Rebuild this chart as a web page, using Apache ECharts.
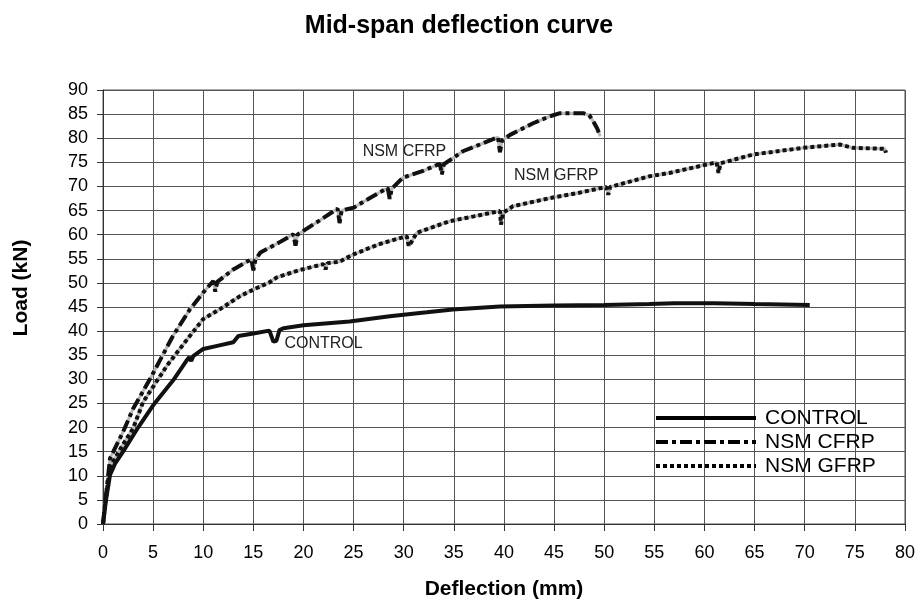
<!DOCTYPE html>
<html>
<head>
<meta charset="utf-8">
<script src="https://cdn.jsdelivr.net/npm/echarts@6/dist/echarts.min.js"></script>
<style>
html,body{margin:0;padding:0;background:#fff;}
#chart{width:918px;height:605px;}
</style>
</head>
<body>
<div id="chart"></div>
<script>
// ---- data (deflection mm, load kN) ----
const seriesNames = ['CONTROL', 'NSM CFRP', 'NSM GFRP'];

const controlX = [0,0.3,0.7,1.2,2.0,3.5,5.0,7.0,8.3,8.6,8.8,9.0,10.0,11.5,13.0,13.5,15.0,16.6,17.0,17.3,17.6,18.0,20,24.6,28.6,32.3,34.9,39.6,45,50,54.5,57,61,65,70.5];
const controlY = [0,5,10.2,12.5,15.0,20,24.6,29.8,33.8,34.6,33.8,34.8,36.3,37.0,37.7,39.0,39.5,40.1,37.8,38.0,40.2,40.6,41.2,42.0,43.1,43.9,44.5,45.1,45.3,45.4,45.6,45.8,45.8,45.6,45.4];

const cfrpX = [0,0.3,0.7,2.0,3.0,4.7,7.0,8.7,10.0,11.0,11.2,11.4,13.0,14.8,15.0,15.2,15.7,17.5,19.0,19.2,19.4,21.5,23.4,23.6,23.8,25.0,26.8,28.4,28.6,28.8,29.9,32,33.6,33.8,34.0,35.9,37.6,39.4,39.6,39.8,40.6,42.9,44.5,45.6,47.9,48.5,48.9,49.3,49.6];
const cfrpY = [0,6,13.6,19.1,23.9,30.1,39.1,44.6,48.0,50.4,48.2,50.2,52.8,54.9,52.6,54.8,56.3,58.3,60.1,57.7,60.0,62.8,65.4,62.4,65.0,65.6,67.8,69.7,67.4,69.5,71.8,73.3,74.7,72.5,74.6,77.3,78.7,80.2,77.1,79.5,80.7,83.1,84.5,85.2,85.2,84.8,83.5,82.0,80.4];

const gfrpX = [0,0.3,0.7,2.0,3.0,4.0,6.4,8.7,10.0,11.7,13.7,15.2,16.6,17.3,19.5,22.0,22.2,22.4,23.6,24.5,25.0,27.5,30.3,30.5,30.8,31.3,34.6,37,39.6,39.7,39.9,40.9,44.6,47.5,50.2,50.4,50.6,54.5,56.5,61.2,61.4,61.6,64.8,69.8,73.5,74.8,78.0,78.1];
const gfrpY = [0,5.5,11.9,16.5,19.8,25.3,32.9,39.1,42.5,44.6,47.3,48.8,50.1,51.1,52.6,53.9,52.8,54.1,54.4,55.4,55.9,58.0,59.7,57.6,58.6,60.4,62.8,63.8,64.9,62.1,64.5,65.9,67.6,68.7,69.9,68.3,69.9,72.1,72.8,75.0,72.8,74.8,76.6,78.0,78.7,78.0,77.8,77.0];

const xTicks = {min: 0, max: 80, step: 5};
const yTicks = {min: 0, max: 90, step: 5};

// ---- build chart ----
function pairs(xs, ys) { return xs.map((x, i) => [x, ys[i]]); }

const FONT = '"Liberation Sans", Arial, sans-serif';
const INK = '#111';

function annot(text, coord) {
  return {
    silent: true,
    symbol: 'rect',
    symbolSize: 0,
    data: [{
      coord: coord,
      label: {
        show: true, position: 'right', distance: 0,
        formatter: text, color: '#222', fontSize: 16, fontFamily: FONT
      }
    }]
  };
}

function halo(name, xs, ys) {
  return {
    name: name, type: 'line', data: pairs(xs, ys),
    showSymbol: false, symbol: 'none', silent: true,
    color: '#b8b8b8',
    lineStyle: {color: '#b8b8b8', width: 3},
    z: 2
  };
}

const chart = echarts.init(document.getElementById('chart'), null, {renderer: 'canvas'});
chart.setOption({
  backgroundColor: '#fff',
  animation: false,
  title: {
    text: 'Mid-span deflection curve',
    left: 'center', top: 9,
    textStyle: {fontSize: 25, fontWeight: 'bold', color: '#000', fontFamily: FONT}
  },
  grid: {left: 103, top: 90, right: 12.5, bottom: 79, show: true, borderColor: '#555', borderWidth: 1},
  legend: {
    data: seriesNames,
    orient: 'vertical',
    left: 654, top: 406,
    padding: 0,
    itemWidth: 100, itemHeight: 14, itemGap: 0,
    itemStyle: {opacity: 0},
    lineStyle: {width: 4, color: '#000'},
    textStyle: {fontSize: 21, color: '#000', fontFamily: FONT, lineHeight: 24, padding: [0, 0, 0, 4]}
  },
  xAxis: {
    type: 'value', min: xTicks.min, max: xTicks.max, interval: xTicks.step,
    name: 'Deflection (mm)', nameLocation: 'middle', nameGap: 55,
    nameTextStyle: {fontSize: 21, fontWeight: 'bold', color: '#000', fontFamily: FONT},
    axisLine: {show: true, onZero: false, lineStyle: {color: '#333', width: 1}},
    axisTick: {show: true, inside: false, length: 7, lineStyle: {color: '#333'}},
    axisLabel: {fontSize: 18, color: '#000', margin: 20, fontFamily: FONT},
    splitLine: {show: true, lineStyle: {color: '#555', width: 1}}
  },
  yAxis: {
    type: 'value', min: yTicks.min, max: yTicks.max, interval: yTicks.step,
    name: 'Load (kN)', nameLocation: 'middle', nameGap: 71, nameRotate: 90,
    nameTextStyle: {fontSize: 21, fontWeight: 'bold', color: '#000', fontFamily: FONT, padding: [0, 0, 0, 38]},
    axisLine: {show: true, onZero: false, lineStyle: {color: '#333', width: 1}},
    axisTick: {show: true, inside: false, length: 6, lineStyle: {color: '#333'}},
    axisLabel: {fontSize: 18, color: '#000', margin: 15, fontFamily: FONT},
    splitLine: {show: true, lineStyle: {color: '#555', width: 1}}
  },
  series: [
    {
      name: seriesNames[0], type: 'line', data: pairs(controlX, controlY),
      showSymbol: false, symbol: 'none', smooth: false,
      color: INK,
      lineStyle: {color: INK, width: 4, type: 'solid'},
      markPoint: annot('CONTROL', [18.1, 37.4]),
      z: 4
    },
    halo('cfrp-halo', cfrpX, cfrpY),
    {
      name: seriesNames[1], type: 'line', data: pairs(cfrpX, cfrpY),
      showSymbol: false, symbol: 'none', smooth: false,
      color: INK,
      lineStyle: {color: INK, width: 4, type: [12, 4, 4, 4]},
      markPoint: annot('NSM CFRP', [25.9, 77.2]),
      z: 3
    },
    halo('gfrp-halo', gfrpX, gfrpY),
    {
      name: seriesNames[2], type: 'line', data: pairs(gfrpX, gfrpY),
      showSymbol: false, symbol: 'none', smooth: false,
      color: INK,
      lineStyle: {color: INK, width: 4, type: [4, 3]},
      markPoint: annot('NSM GFRP', [41.0, 72.3]),
      z: 3
    }
  ]
});
</script>
</body>
</html>
